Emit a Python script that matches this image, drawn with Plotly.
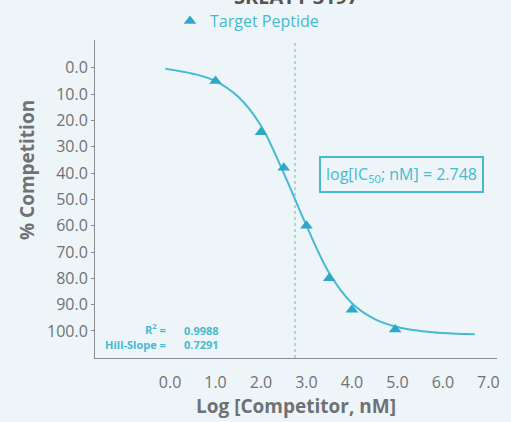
import plotly.graph_objects as go

# Data points (Target Peptide)
point_x = [1.0, 2.0, 2.5, 3.0, 3.5, 4.0, 4.95]
point_y = [5.0, 24.5, 38.0, 60.0, 80.0, 92.0, 99.5]

# Fitted curve
curve_x = [-0.1, 0.5, 1.0, 1.5, 2.0, 2.5, 3.0, 3.5, 4.0, 4.5, 5.0, 5.5, 6.0, 6.7]
curve_y = [0.3, 2.2, 5.0, 11.0, 22.0, 40.0, 60.0, 78.0, 89.5, 95.5, 98.5, 100.0, 100.8, 101.3]

ic50 = 2.748
r2 = "0.9988"
hill = "0.7291"

x_ticks = [0, 1, 2, 3, 4, 5, 6, 7]
y_ticks = [0, 10, 20, 30, 40, 50, 60, 70, 80, 90, 100]

TEAL = "#45bad0"
MARK = "#2fa8c8"
GRAY = "#6e7175"
BG = "#eef5f8"
FONT = "Open Sans"

W, H = 511, 422
ML, MR, MT, MB = 95, 14, 40, 64
PW, PH = W - ML - MR, H - MT - MB


def px_x(p):
    return (p - ML) / PW


def px_y(p):
    return (H - MB - p) / PH


fig = go.Figure()
fig.add_trace(go.Scatter(x=curve_x, y=curve_y, mode="lines", line=dict(color=TEAL, width=2, shape="spline"),
                         showlegend=False, hoverinfo="skip"))
fig.add_trace(go.Scatter(x=point_x, y=point_y, mode="markers", name="Target Peptide",
                         marker=dict(symbol="triangle-up", size=11, color=MARK)))

fig.add_shape(type="line", x0=ic50, x1=ic50, y0=0, y1=1, yref="paper", xref="x",
              line=dict(color="#6fb3bf", width=1, dash="dot"))

fig.add_annotation(x=px_x(401), y=px_y(174), xref="paper", yref="paper", xanchor="center", yanchor="middle",
                   text="log[IC<sub>50</sub>; nM] = 2.748", showarrow=False,
                   font=dict(family=FONT, size=16, color=TEAL),
                   bordercolor=TEAL, borderwidth=2, borderpad=5, bgcolor=BG)

small = dict(family=FONT, size=11, color=TEAL)
fig.add_annotation(x=px_x(168), y=px_y(329), xref="paper", yref="paper", xanchor="right", yanchor="middle",
                   text="<b>R<sup>2</sup> =</b>", showarrow=False, font=small)
fig.add_annotation(x=px_x(168), y=px_y(344), xref="paper", yref="paper", xanchor="right", yanchor="middle",
                   text="<b>Hill-Slope =</b>", showarrow=False, font=small)
fig.add_annotation(x=px_x(182), y=px_y(330), xref="paper", yref="paper", xanchor="left", yanchor="middle",
                   text="<b>" + r2 + "</b>", showarrow=False, font=small)
fig.add_annotation(x=px_x(182), y=px_y(344), xref="paper", yref="paper", xanchor="left", yanchor="middle",
                   text="<b>" + hill + "</b>", showarrow=False, font=small)

fig.add_annotation(x=px_x(27), y=px_y(170), xref="paper", yref="paper", xanchor="center", yanchor="middle",
                   text="<b>% Competition</b>", showarrow=False,
                   textangle=-90, font=dict(family=FONT, size=19, color=GRAY))

fig.add_annotation(x=px_x(296), y=px_y(406), xref="paper", yref="paper", xanchor="center", yanchor="middle",
                   text="<b>Log [Competitor, nM]</b>", showarrow=False,
                   font=dict(family=FONT, size=19, color=GRAY))

# partially clipped title at the very top
fig.add_annotation(x=px_x(296), y=px_y(-4), xref="paper", yref="paper", xanchor="center",
                   yanchor="middle", text="<b>SREAT1-3197</b>", showarrow=False,
                   font=dict(family=FONT, size=20, color="#555"))

fig.update_layout(
    width=W, height=H,
    margin=dict(l=ML, r=MR, t=MT, b=MB, autoexpand=False),
    paper_bgcolor=BG, plot_bgcolor=BG,
    font=dict(family=FONT, color=GRAY),
    showlegend=True,
    legend=dict(orientation="h", x=px_x(247), xanchor="center", y=px_y(21), yanchor="middle",
                font=dict(family=FONT, size=16, color=TEAL), bgcolor="rgba(0,0,0,0)"),
    xaxis=dict(range=[-1.65, 7.19], tickvals=x_ticks, ticktext=[f"{v:.1f}" for v in x_ticks],
               showgrid=False, zeroline=False, showline=True, linecolor="#8a8d90", linewidth=1,
               ticks="", ticklabelstandoff=10, tickfont=dict(family=FONT, size=16, color=GRAY)),
    yaxis=dict(range=[110.3, -10.6], tickvals=y_ticks, ticktext=[f"{v:.1f}" for v in y_ticks],
               showgrid=False, zeroline=False, showline=True, linecolor="#8a8d90", linewidth=1,
               ticks="outside", ticklen=3, tickcolor="#8a8d90",
               tickfont=dict(family=FONT, size=16, color=GRAY)),
)

fig.write_html("out.html", config={"displayModeBar": False},
               post_script="document.body.style.margin='0px';document.body.style.background='" + BG + "';")
